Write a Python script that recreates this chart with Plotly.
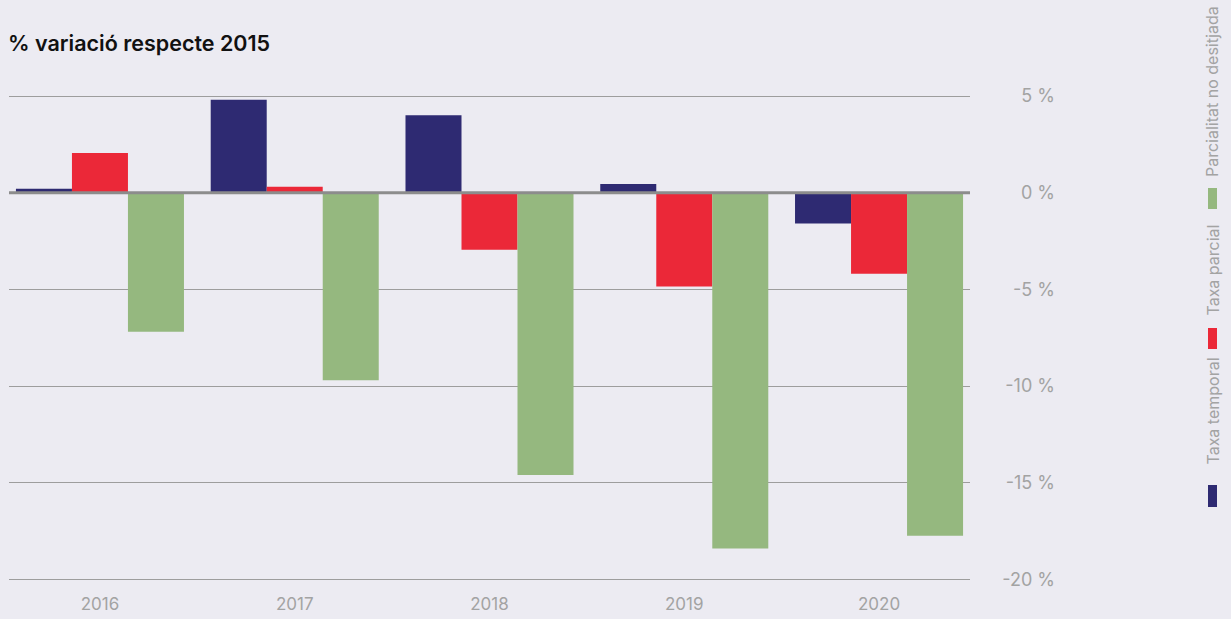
import plotly.graph_objects as go

# Data: % change vs 2015
years = ["2016", "2017", "2018", "2019", "2020"]
taxa_temporal = [0.2, 4.8, 4.0, 0.45, -1.6]
taxa_parcial = [2.05, 0.3, -2.95, -4.85, -4.2]
parcialitat_no_desitjada = [-7.2, -9.7, -14.6, -18.4, -17.75]

series_names = ["Taxa temporal", "Taxa parcial", "Parcialitat no desitjada"]
series_colors = ["#2E2A72", "#EB2838", "#95B87F"]
tick_vals = [5, 0, -5, -10, -15, -20]
tick_text = ["5 %", "0 %", "-5 %", "-10 %", "-15 %", "-20 %"]

W, H = 1231, 619
ML, MR, MT, MB = 9, 150, 60, 30
PW, PH = W - ML - MR, H - MT - MB
BG = "#ECEBF2"
GREY = "#a3a3a3"
FONT = "Inter"


def px_x(px):
    return (px - ML) / PW


def px_y(py):
    return (H - MB - py) / PH


fig = go.Figure()
for name, vals, col in zip(series_names,
                           [taxa_temporal, taxa_parcial, parcialitat_no_desitjada],
                           series_colors):
    fig.add_trace(go.Bar(x=years, y=vals, name=name, marker_color=col,
                         marker_line_width=0, showlegend=False))

fig.update_layout(
    width=W, height=H,
    margin=dict(l=ML, r=MR, t=MT, b=MB),
    paper_bgcolor=BG, plot_bgcolor=BG,
    barmode="group", bargap=0.1373, bargroupgap=0,
    font=dict(family=FONT, color=GREY, size=17),
    xaxis=dict(domain=[0, px_x(970)], range=[-0.467, 4.467],
               showgrid=False, zeroline=False, showline=False, ticks="",
               ticklabelstandoff=3, automargin=False,
               tickfont=dict(size=17, color=GREY)),
    yaxis=dict(anchor="free", position=px_x(1055), side="left",
               range=[-20.50, 6.862], tickvals=tick_vals, ticktext=tick_text,
               showgrid=True, gridcolor="#9d9d9d", gridwidth=1,
               zeroline=False, showline=False, ticks="", automargin=False,
               tickfont=dict(size=18, color=GREY)),
)

# zero line drawn above the bars
fig.add_shape(type="line", xref="x domain", yref="y", x0=0, x1=1, y0=0, y1=0,
              line=dict(color="#8c8c8c", width=3), layer="above")

# title
fig.add_annotation(xref="paper", yref="paper", x=px_x(6), y=px_y(43),
                   xanchor="left", yanchor="middle", showarrow=False,
                   text="% variació respecte 2015",
                   font=dict(family=FONT, size=21.5, color="#111111", weight=600))

# vertical legend on the right
legend_items = [
    ("Taxa temporal", series_colors[0], 485, 507, 411.5),
    ("Taxa parcial", series_colors[1], 328, 349, 270.5),
    ("Parcialitat no desitjada", series_colors[2], 188, 209, 92),
]
for label, col, m0, m1, tc in legend_items:
    fig.add_shape(type="rect", xref="paper", yref="paper",
                  x0=px_x(1208), x1=px_x(1217), y0=px_y(m1), y1=px_y(m0),
                  fillcolor=col, line_width=0)
    fig.add_annotation(xref="paper", yref="paper", x=px_x(1212), y=px_y(tc),
                       xanchor="center", yanchor="middle", showarrow=False,
                       textangle=-90, text=label,
                       font=dict(family=FONT, size=16, color=GREY))

fig.write_html("out.html")
